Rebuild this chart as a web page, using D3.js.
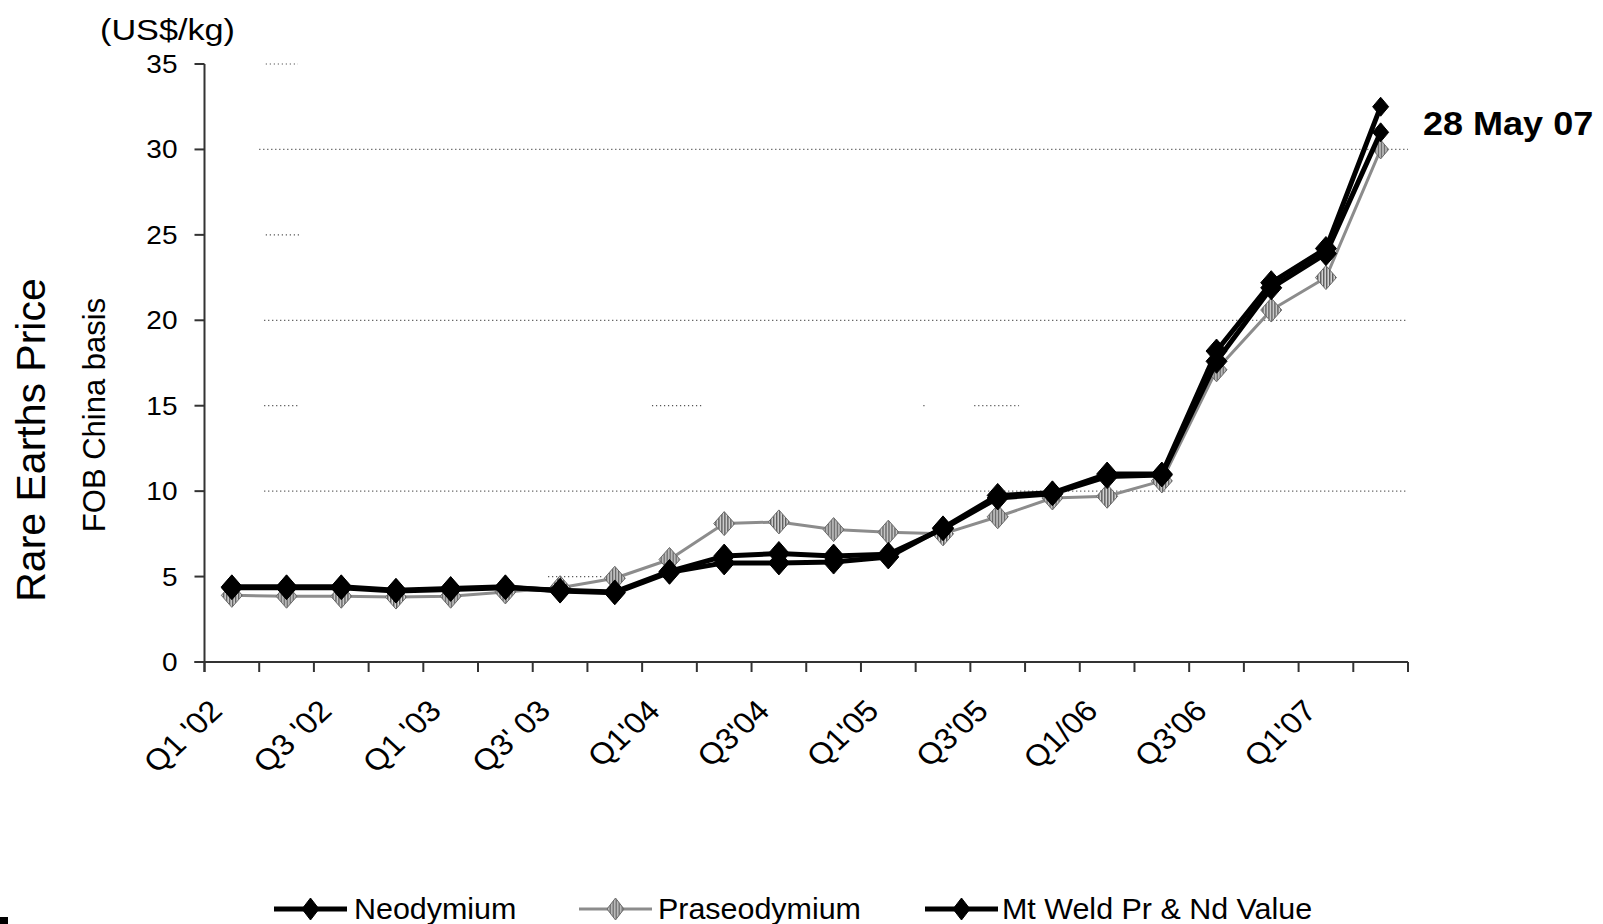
<!DOCTYPE html>
<html>
<head>
<meta charset="utf-8">
<script src="https://cdn.jsdelivr.net/npm/d3@7"></script>
<style>
    body { margin: 0; background: #fff; }
    svg { display: block; }
    text { font-family: "Liberation Sans", Arial, sans-serif; fill: #000; }
</style>
</head>
<body>
<div id="chart"></div>
<script>
// quarters on the x axis (only every second one gets a label)
const categories = ["Q1 '02", "Q2 '02", "Q3 '02", "Q4 '02", "Q1 '03", "Q2 '03", "Q3' 03", "Q4 '03",
    "Q1'04", "Q2'04", "Q3'04", "Q4'04", "Q1'05", "Q2'05", "Q3'05", "Q4'05",
    "Q1/06", "Q2'06", "Q3'06", "Q4'06", "Q1'07", "Q2'07"];

// US$/kg, FOB China basis
const neodymium = [4.4, 4.4, 4.4, 4.2, 4.3, 4.4, 4.15, 4.05, 5.25, 5.8, 5.8, 5.85,
    6.15, 7.85, 9.75, 9.9, 11.0, 11.0, 18.2, 22.2, 24.2, 32.5];
const praseodymium = [3.9, 3.85, 3.85, 3.8, 3.85, 4.1, 4.35, 4.9, 6.0, 8.1, 8.2, 7.75,
    7.6, 7.5, 8.5, 9.6, 9.7, 10.6, 17.1, 20.6, 22.5, 30.0];
const mtWeld = [4.35, 4.35, 4.35, 4.15, 4.25, 4.35, 4.2, 4.1, 5.3, 6.2, 6.35, 6.2,
    6.3, 7.8, 9.6, 9.85, 10.85, 10.95, 17.6, 21.9, 23.9, 31.0];

const seriesNames = ["Neodymium", "Praseodymium", "Mt Weld Pr & Nd Value"];
const yTicks = [0, 5, 10, 15, 20, 25, 30, 35];

// dotted gridlines as they survive in the scan: value + span in category units
const gridSegments = [
    { value: 35, from: 1.12, to: 1.71 },
    { value: 30, from: 1.0, to: 22 },
    { value: 25, from: 1.12, to: 1.75 },
    { value: 20, from: 1.09, to: 22 },
    { value: 15, from: 1.09, to: 1.71 },
    { value: 15, from: 8.18, to: 9.08 },
    { value: 15, from: 13.14, to: 13.2 },
    { value: 15, from: 14.07, to: 14.89 },
    { value: 10, from: 1.09, to: 22 },
    { value: 5, from: 6.28, to: 7.29 }
];

const width = 1603;
const height = 924;
const plot = { left: 204.5, right: 1408, top: 64, bottom: 662 };

const svg = d3.select("#chart")
    .append("svg")
    .attr("width", width)
    .attr("height", height);

const defs = svg.append("defs");
// hatched grey fill used by the Praseodymium markers
const hatch = defs.append("pattern")
    .attr("id", "hatch")
    .attr("patternUnits", "userSpaceOnUse")
    .attr("width", 3)
    .attr("height", 3);
hatch.append("rect").attr("width", 3).attr("height", 3).attr("fill", "#d8d8d8");
hatch.append("rect").attr("width", 1.5).attr("height", 3).attr("fill", "#5a5a5a");

const x = d3.scaleBand()
    .domain(categories)
    .range([plot.left, plot.right])
    .padding(0);
const xIdx = d3.scaleLinear()
    .domain([0, categories.length])
    .range([plot.left, plot.right]);
const y = d3.scaleLinear()
    .domain([0, 35])
    .range([plot.bottom, plot.top]);

const cx = c => x(c) + x.bandwidth() / 2;

// Excel-style diamond: almost square, a bit taller than wide
function diamondPath(w, h) {
    const p = d3.path();
    p.moveTo(0, -h);
    p.lineTo(w, 0);
    p.lineTo(0, h);
    p.lineTo(-w, 0);
    p.closePath();
    return p.toString();
}

// text with a slight horizontal stretch, like the scanned original
function stretchedText(g, px, py, sx, rot) {
    return g.append("text")
        .attr("transform", `translate(${px},${py}) scale(${sx},1)` + (rot ? ` rotate(${rot})` : ""));
}

// gridlines
svg.append("g")
    .selectAll("line")
    .data(gridSegments)
    .join("line")
    .attr("x1", d => xIdx(d.from))
    .attr("x2", d => xIdx(d.to))
    .attr("y1", d => y(d.value))
    .attr("y2", d => y(d.value))
    .attr("stroke", "#555")
    .attr("stroke-width", 1.2)
    .attr("stroke-dasharray", "1.2,2.8");

// y axis
const yAxis = svg.append("g");
yAxis.append("line")
    .attr("x1", plot.left).attr("x2", plot.left)
    .attr("y1", y(35)).attr("y2", plot.bottom + 10)
    .attr("stroke", "#333").attr("stroke-width", 2);
yAxis.selectAll(".tick")
    .data(yTicks)
    .join("line")
    .attr("x1", plot.left - 10).attr("x2", plot.left)
    .attr("y1", d => y(d)).attr("y2", d => y(d))
    .attr("stroke", "#333").attr("stroke-width", 2);
yTicks.forEach(v => {
    stretchedText(yAxis, plot.left - 27, y(v), 1.12)
        .attr("text-anchor", "end")
        .attr("dy", "0.36em")
        .style("font-size", "25px")
        .text(v);
});

// x axis: ticks sit on the category boundaries
const xAxis = svg.append("g");
xAxis.append("line")
    .attr("x1", plot.left - 10).attr("x2", plot.right)
    .attr("y1", plot.bottom).attr("y2", plot.bottom)
    .attr("stroke", "#333").attr("stroke-width", 2);
xAxis.selectAll(".tick")
    .data(d3.range(categories.length + 1))
    .join("line")
    .attr("x1", i => xIdx(i)).attr("x2", i => xIdx(i))
    .attr("y1", plot.bottom).attr("y2", plot.bottom + 10)
    .attr("stroke", "#333").attr("stroke-width", 2);
categories.forEach((c, i) => {
    if (i % 2) return;
    stretchedText(xAxis, cx(c) - 16, plot.bottom + 43, 1.08, -45)
        .attr("text-anchor", "end")
        .attr("dy", "0.36em")
        .style("font-size", "30px")
        .text(c);
});

// axis titles
stretchedText(svg, 100, 40, 1.18)
    .style("font-size", "29px")
    .text("(US$/kg)");
svg.append("text")
    .attr("transform", `translate(45,440) rotate(-90)`)
    .attr("text-anchor", "middle")
    .style("font-size", "41px")
    .text("Rare Earths Price");
svg.append("text")
    .attr("transform", `translate(105,415) rotate(-90)`)
    .attr("text-anchor", "middle")
    .style("font-size", "31px")
    .text("FOB China basis");

// series
const series = [
    { name: seriesNames[0], values: neodymium, stroke: "#000", width: 5, fill: "#000" },
    { name: seriesNames[1], values: praseodymium, stroke: "#8c8c8c", width: 3, fill: "url(#hatch)" },
    { name: seriesNames[2], values: mtWeld, stroke: "#000", width: 5, fill: "#000" }
];

const line = d3.line()
    .x((d, i) => cx(categories[i]))
    .y(d => y(d));

function drawSeries(s) {
    const g = svg.append("g");
    const last = s.values.length - 1;
    g.append("path")
        .attr("d", line(s.values))
        .attr("fill", "none")
        .attr("stroke", s.stroke)
        .attr("stroke-width", s.width)
        .attr("stroke-linejoin", "round");
    g.selectAll("path.marker")
        .data(s.values)
        .join("path")
        .attr("class", "marker")
        .attr("transform", (d, i) => `translate(${cx(categories[i])},${y(d)})`)
        .attr("d", (d, i) => i === last ? diamondPath(8, 9.5) : diamondPath(10.5, 12))
        .attr("fill", s.fill)
        .attr("stroke", s.fill === "#000" ? "#000" : "#6a6a6a")
        .attr("stroke-width", 1);
}
[series[1], series[0], series[2]].forEach(drawSeries);

// date annotation
stretchedText(svg, 1423, 135, 1.06)
    .style("font-size", "34px")
    .style("font-weight", "bold")
    .text("28 May 07");

// legend
const legendPos = [{ x: 274, tx: 354 }, { x: 579, tx: 658 }, { x: 925, tx: 1002 }];
const legend = svg.append("g");
series.forEach((s, i) => {
    const p = legendPos[i];
    const ly = 909;
    legend.append("line")
        .attr("x1", p.x).attr("x2", p.x + 73)
        .attr("y1", ly).attr("y2", ly)
        .attr("stroke", s.stroke)
        .attr("stroke-width", s.width);
    legend.append("path")
        .attr("transform", `translate(${p.x + 36.5},${ly})`)
        .attr("d", diamondPath(8.5, 11))
        .attr("fill", s.fill)
        .attr("stroke", s.fill === "#000" ? "#000" : "#6a6a6a");
    stretchedText(legend, p.tx, ly, 1.05)
        .attr("dy", "0.36em")
        .style("font-size", "29px")
        .text(s.name);
});

// scrap of a mark at the bottom-left edge of the scan
svg.append("rect")
    .attr("x", 0).attr("y", 917)
    .attr("width", 8).attr("height", 7)
    .attr("fill", "#000");
</script>
</body>
</html>
